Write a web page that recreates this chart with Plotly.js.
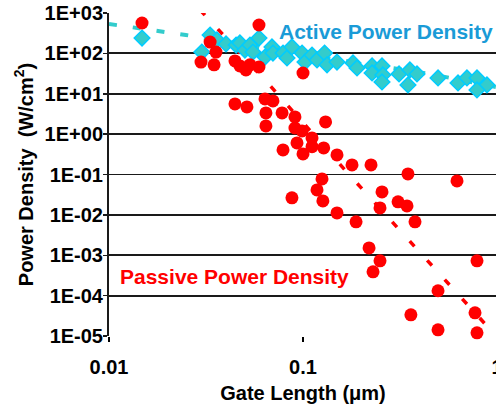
<!DOCTYPE html>
<html>
<head>
<meta charset="utf-8">
<script src="https://cdn.plot.ly/plotly-3.0.1.min.js"></script>
<style>html,body{margin:0;padding:0;overflow:hidden;background:#fff}#chart{width:497px;height:408px}</style>
</head>
<body>
<div id="chart"></div>
<script>
// Passive power density (red circles)
const passiveX = [0.0148,0.0332,0.0356,0.0298,0.0348,0.0593,0.0446,0.0473,0.0508,0.0533,0.0593,0.100,
  0.0446,0.0514,0.0637,0.0700,0.0644,0.0780,0.0909,0.0644,0.0909,0.0989,0.1113,0.0931,0.0789,0.100,
  0.1307,0.1278,0.1113,0.1497,0.1789,0.2242,0.3476,0.622,0.1253,0.1181,0.1266,0.0877,0.1497,0.1877,
  0.2554,0.2494,0.309,0.3436,0.3779,0.219,0.2494,0.2296,0.7886,0.4966,0.3598,0.7704,0.4966,0.7886];
const passiveY = [565,191,108,61,52,505,65,49,38.8,52,46,32.7,
  5.59,4.71,7.43,6.64,3.35,3.35,2.67,1.60,1.42,1.20,0.805,0.605,0.406,0.324,
  2.00,0.455,0.49,0.305,0.173,0.173,0.1035,0.0695,0.0778,0.0416,0.0222,0.0264,0.0112,0.00671,
  0.0371,0.0149,0.0210,0.0167,0.00671,0.00152,0.000726,0.000388,0.000726,0.000132,3.35e-5,3.75e-5,1.42e-5,1.20e-5];

// Active power density (cyan diamonds)
const activeX = [0.0148,0.0301,0.0332,0.0360,0.0401,0.0452,0.0473,0.0502,0.0533,0.0552,0.0593,0.0637,
  0.0692,0.0700,0.0789,0.0827,0.0877,0.0989,0.1024,0.1113,0.1181,0.1292,0.1330,0.1497,0.1810,0.1899,
  0.2270,0.2270,0.2554,0.2580,0.2554,0.3126,0.3556,0.3869,0.3476,0.4966,0.6295,0.700,0.7886,0.8877,0.7886];
const activeY = [240,108,285,215,171,161,181,121,161,108,240,81,
  144,102,102,77,144,102,61,91,69,102,52,61,58,43.5,
  49,32.7,49,29.2,19.6,30.9,38.8,30.9,16.5,24.6,18.5,24.6,24.6,16.5,12.4];

// Trend lines
const activeTrendX = [0.01,0.0249,0.0966,0.452,0.989];
const activeTrendY = [535,285,96.6,30.9,14.7];
const passiveTrendX = [0.0295,0.0637,0.1644,0.540,0.989];
const passiveTrendY = [1186,22.0,0.130,0.000246,1e-5];

// Tick labels
const xTickVals = [0.01,0.1,1];
const xTickText = ["0.01","0.1","1"];
const yTickVals = [1e-5,1e-4,1e-3,1e-2,1e-1,1,10,100,1000];
const yTickText = ["1E-05","1E-04","1E-03","1E-02","1E-01","1E+00","1E+01","1E+02","1E+03"];

const FONT = "Liberation Sans, Arial, sans-serif";

const traces = [
  {x: passiveTrendX, y: passiveTrendY, mode: "lines", type: "scatter", hoverinfo: "skip",
   line: {color: "#FF0000", width: 3.5, dash: "7px,19px"}},
  {x: activeTrendX, y: activeTrendY, mode: "lines", type: "scatter", hoverinfo: "skip",
   line: {color: "#33CCCC", width: 4, dash: "8px,16px"}},
  {x: activeX, y: activeY, mode: "markers", type: "scatter", cliponaxis: false,
   marker: {symbol: "diamond", size: 12, color: "#33CCCC", line: {color: "#00CCFF", width: 1.5}}},
  {x: passiveX, y: passiveY, mode: "markers", type: "scatter", cliponaxis: false,
   marker: {symbol: "circle", size: 13, color: "#FF0000", line: {width: 0}}}
];

const layout = {
  width: 497, height: 408,
  margin: {l: 109, r: 0, t: 13, b: 72},
  paper_bgcolor: "#fff", plot_bgcolor: "#fff",
  showlegend: false,
  font: {family: FONT, size: 20, color: "#000"},
  xaxis: {
    type: "log", range: [-2, 0], tickvals: xTickVals, ticktext: xTickText,
    showgrid: false, zeroline: false, showline: false,
    ticks: "outside", ticklen: 5, tickwidth: 1.5, tickcolor: "#000",
    ticklabelstandoff: 8, ticklabeloverflow: "allow",
    tickfont: {family: FONT, size: 20, color: "#000", weight: "bold"},
    title: {text: "Gate Length (μm)", font: {family: FONT, size: 20, color: "#000", weight: "bold"}, standoff: 8}
  },
  yaxis: {
    type: "log", range: [-5, 3], tickvals: yTickVals, ticktext: yTickText,
    showgrid: true, gridcolor: "#1a1a1a", gridwidth: 1.8, zeroline: false,
    showline: true, linecolor: "#1a1a1a", linewidth: 2,
    ticks: "outside", ticklen: 4, tickwidth: 1.5, tickcolor: "#1a1a1a",
    ticklabelstandoff: -4,
    tickfont: {family: FONT, size: 20, color: "#000", weight: "bold"},
    title: {text: "Power Density  (W/cm<sup>2</sup>)", font: {family: FONT, size: 20, color: "#000", weight: "bold"}, standoff: 6}
  },
  annotations: [
    {x: Math.log10(0.268), y: Math.log10(339), xref: "x", yref: "y", text: "Active Power Density",
     showarrow: false, xanchor: "center", yanchor: "middle",
     font: {family: FONT, size: 21, color: "#1A9BD7", weight: "bold"}},
    {x: Math.log10(0.0446), y: Math.log10(0.000292), xref: "x", yref: "y", text: "Passive Power Density",
     showarrow: false, xanchor: "center", yanchor: "middle",
     font: {family: FONT, size: 21, color: "#FF0000", weight: "bold"}}
  ]
};

Plotly.newPlot("chart", traces, layout, {displayModeBar: false, staticPlot: true});
</script>
</body>
</html>
